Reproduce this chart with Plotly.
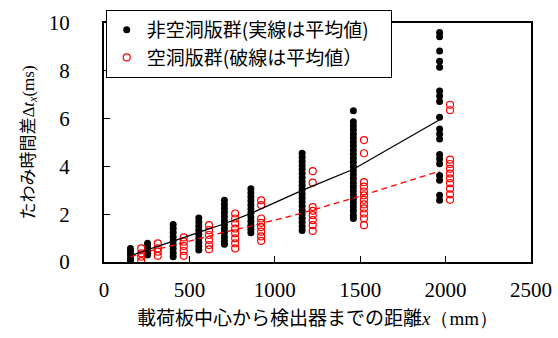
import plotly.graph_objects as go

# 非空洞版群 (black dots)
solid_x = [155, 255, 405, 555, 705, 860, 1160, 1460, 1965]
solid_vals = [
    [0.57, 0.43, 0.29, 0.15, 0.03],
    [0.78, 0.64, 0.5, 0.36, 0.29],
    [1.57, 1.4, 1.23, 1.06, 0.89, 0.72, 0.55, 0.38, 0.22],
    [1.84, 1.67, 1.5, 1.33, 1.16, 0.99, 0.82, 0.66, 0.5],
    [2.58, 2.41, 2.24, 2.07, 1.9, 1.73, 1.56, 1.39, 1.22, 1.05, 0.88, 0.74],
    [3.07, 2.9, 2.73, 2.56, 2.39, 2.22, 2.05, 1.88, 1.71, 1.54, 1.37, 1.22],
    [4.55, 4.38, 4.21, 4.04, 3.87, 3.7, 3.53, 3.36, 3.19, 3.02,
     2.85, 2.68, 2.51, 2.34, 2.17, 2.0, 1.83, 1.66, 1.49, 1.32],
    [6.33, 5.87, 5.7, 5.53, 5.36, 5.19, 5.02, 4.85, 4.68, 4.51, 4.34, 4.17, 4.0,
     3.83, 3.66, 3.49, 3.32, 3.15, 2.98, 2.81, 2.64, 2.47, 2.3, 2.13, 1.96, 1.82],
    [9.6, 9.42, 8.83, 8.4, 8.15, 7.15, 6.95, 6.72, 6.06, 5.57, 5.36, 5.15,
     4.5, 4.32, 4.11, 3.62, 3.42, 2.79, 2.58],
]
solid_mean = [0.27, 0.5, 0.87, 1.24, 1.6, 2.03, 3.0, 3.88, 5.95]

# 空洞版群 (red open circles)
hollow_x = [218, 315, 467, 615, 768, 920, 1222, 1522, 2026]
hollow_vals = [
    [0.57, 0.36, 0.22, 0.04],
    [0.78, 0.57, 0.43, 0.26],
    [1.03, 0.85, 0.67, 0.46, 0.26],
    [1.54, 1.33, 1.13, 0.92, 0.71, 0.53],
    [2.03, 1.82, 1.61, 1.4, 1.2, 0.99, 0.78, 0.57],
    [2.58, 2.38, 1.82, 1.64, 1.46, 1.27, 1.07, 0.88],
    [3.8, 3.32, 2.3, 2.14, 1.96, 1.75, 1.54, 1.3],
    [5.1, 4.55, 3.34, 3.15, 2.95, 2.79, 2.6, 2.41, 2.24, 2.03, 1.82, 1.54],
    [6.58, 6.35, 4.28, 4.1, 3.9, 3.7, 3.5, 3.3, 3.07, 2.83, 2.6],
]
hollow_mean = [0.22, 0.43, 0.7, 0.98, 1.25, 1.5, 2.05, 2.67, 3.8]

xs_s, ys_s = [], []
for x, vals in zip(solid_x, solid_vals):
    xs_s += [x] * len(vals)
    ys_s += vals

xs_h, ys_h = [], []
for x, vals in zip(hollow_x, hollow_vals):
    xs_h += [x] * len(vals)
    ys_h += vals

serif = "Liberation Serif"
cjk = "Noto Sans CJK JP"

fig = go.Figure()
fig.add_trace(go.Scatter(
    x=xs_s, y=ys_s, mode="markers", name="非空洞版群(実線は平均値)\u00a0\u00a0\u00a0\u00a0",
    marker=dict(symbol="circle", size=7, color="black"),
))
fig.add_trace(go.Scatter(
    x=xs_h, y=ys_h, mode="markers", name="空洞版群(破線は平均値）",
    marker=dict(symbol="circle-open", size=7, color="#ff0000", line=dict(width=1.2)),
))
# mean lines (drawn at the black-column positions)
fig.add_trace(go.Scatter(
    x=solid_x, y=solid_mean, mode="lines", showlegend=False,
    line=dict(color="black", width=1.3),
))
fig.add_trace(go.Scatter(
    x=solid_x, y=hollow_mean, mode="lines", showlegend=False,
    line=dict(color="#ff0000", width=1.3, dash="6px,4px"),
))

fig.update_layout(
    width=558,
    height=338,
    margin=dict(l=104, r=27, t=23, b=76, autoexpand=False),
    plot_bgcolor="white",
    paper_bgcolor="white",
    showlegend=True,
    legend=dict(
        x=0.004, y=1.055, xanchor="left", yanchor="top",
        bgcolor="white", bordercolor="black", borderwidth=1,
        font=dict(family=cjk, size=19, color="black"),
        tracegroupgap=0, itemwidth=30,
    ),
)
fig.update_xaxes(
    range=[0, 2500], dtick=500, tick0=0, automargin=False,
    showgrid=False, zeroline=False,
    showline=True, mirror=True, linecolor="black", linewidth=2,
    ticks="inside", ticklen=6, tickwidth=1, tickcolor="black",
    tickfont=dict(family=serif, size=21, color="black"),
    ticklabelstandoff=8,
    title=dict(
        text="載荷板中心から検出器までの距離<span style=\"font-family:Liberation Serif\"><i>x</i>（mm）</span>",
        font=dict(family=cjk, size=19, color="black"),
        standoff=10,
    ),
)
fig.update_yaxes(
    range=[0, 10], dtick=2, tick0=0, automargin=False,
    showgrid=False, zeroline=False,
    showline=True, mirror=True, linecolor="black", linewidth=2,
    ticks="inside", ticklen=6, tickwidth=1, tickcolor="black",
    tickfont=dict(family=serif, size=21, color="black"),
    ticklabelstandoff=28,
    title=dict(
        text="たわみ時間差<span style=\"font-family:Liberation Serif\">Δ<i>t</i><sub><i>x</i></sub>(ms)</span>",
        font=dict(family=cjk, size=17, color="black"),
        standoff=10,
    ),
)

# the page body has an 8px default margin; drop it so the figure fills the window
fig.write_html(
    "out.html",
    config={"displayModeBar": False},
    post_script="document.body.style.margin='0';",
)
